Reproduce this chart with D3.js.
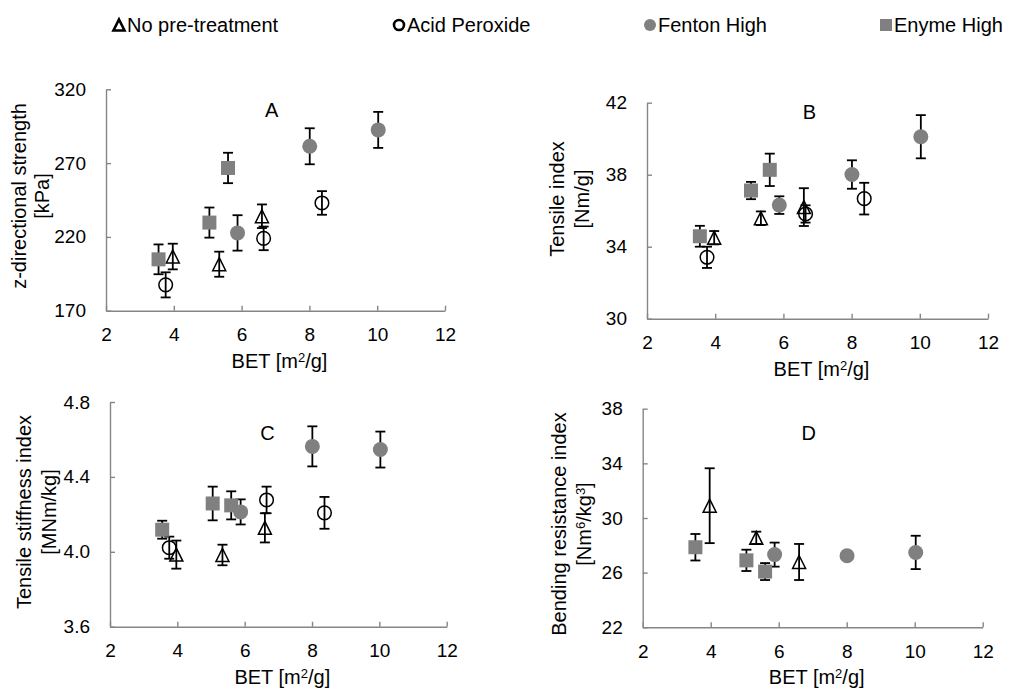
<!DOCTYPE html>
<html>
<head>
<meta charset="utf-8">
<script src="https://cdn.jsdelivr.net/npm/d3@7"></script>
<style>
  body { margin: 0; background: #fff; }
  svg text { font-family: "Liberation Sans", Arial, sans-serif; fill: #000; }
</style>
</head>
<body>
<script>
// series order: no pre-treatment, acid peroxide, fenton high, enzyme high
let seriesNames = ['No pre-treatment', 'Acid Peroxide', 'Fenton High', 'Enyme High'];
let bet = [[3.97, 5.34, 6.60], [3.76, 6.65, 8.37], [5.88, 8.01, 10.03], [3.55, 5.05, 5.60]];
let xTicks = [2, 4, 6, 8, 10, 12];

let zStrength = [[206.7, 201.5, 234], [187.5, 219, 243], [222.7, 281.4, 292.5], [204.8, 229.7, 266.7]];
let zStrengthErr = [[8.7, 8.5, 8], [8.5, 8, 8], [12, 12.2, 12.2], [10.1, 10.2, 10.3]];
let zTicks = [170, 220, 270, 320];

let tensile = [[34.5, 35.58, 36.2], [33.41, 35.82, 36.67], [36.31, 38.01, 40.11], [34.58, 37.12, 38.27]];
let tensileErr = [[0.37, 0.38, 1.05], [0.59, 0.48, 0.88], [0.49, 0.79, 1.2], [0.58, 0.48, 0.9]];
let tensileTicks = [30, 34, 38, 42];

let stiffness = [[3.985, 3.983, 4.128], [4.022, 4.277, 4.208], [4.213, 4.563, 4.546], [4.118, 4.258, 4.248]];
let stiffnessErr = [[0.075, 0.055, 0.078], [0.059, 0.071, 0.085], [0.067, 0.107, 0.096], [0.048, 0.09, 0.075]];
let stiffnessTicks = [3.6, 4.0, 4.4, 4.8];

// no acid peroxide points in the bending panel
let bending = [[30.9, 28.55, 26.78], [], [27.32, 27.24, 27.48], [27.86, 26.9, 26.08]];
let bendingErr = [[2.74, 0.45, 1.32], [], [0.88, 0.3, 1.22], [0.97, 0.78, 0.62]];
let bendingTicks = [22, 26, 30, 34, 38];

let w = 1009, h = 688;
let gray = '#808080', axisColor = '#868686';

let svg = d3.select('body')
  .append('svg')
  .attr('width', w)
  .attr('height', h);

let betTitle = [['BET [m', 0], ['2', 1], ['/g]', 0]];

let panels = [
  { letter: 'A', vals: zStrength, errs: zStrengthErr, yDomain: [170, 320], yTicks: zTicks, fmt: d3.format('d'),
    box: [106, 445, 89.3, 310.7], title: [[['z-directional strength', 0]], [['[kPa]', 0]]],
    titleX: [19, 42], titleY: 196, letterAt: [6.89, 306] },
  { letter: 'B', vals: tensile, errs: tensileErr, yDomain: [30, 42], yTicks: tensileTicks, fmt: d3.format('d'),
    box: [647, 988, 102.7, 318.7], title: [[['Tensile index', 0]], [['[Nm/g]', 0]]],
    titleX: [557, 582], titleY: 199, letterAt: [6.76, 41.5] },
  { letter: 'C', vals: stiffness, errs: stiffnessErr, yDomain: [3.6, 4.8], yTicks: stiffnessTicks, fmt: d3.format('.1f'),
    box: [110, 446.7, 402, 626.7], title: [[['Tensile stiffness index', 0]], [['[MNm/kg]', 0]]],
    titleX: [24, 49], titleY: 512, letterAt: [6.68, 4.633] },
  { letter: 'D', vals: bending, errs: bendingErr, yDomain: [22, 38], yTicks: bendingTicks, fmt: d3.format('d'),
    box: [642.7, 982.7, 408.7, 627.3], title: [[['Bending resistance index', 0]], [['[Nm', 0], ['6', 1], ['/kg', 0], ['3', 1], [']', 0]]],
    titleX: [559, 584], titleY: 524, letterAt: [6.88, 36.2] }
];

// writes text segments, superscript ones smaller and raised
let addSegments = (textSel, segs) => {
  segs.forEach(s => {
    textSel.append('tspan')
      .text(s[0])
      .style('font-size', s[1] ? '13px' : null)
      .attr('dy', null)
      .attr('baseline-shift', s[1] ? '45%' : null);
  });
};

let triPath = 'M0,-6.5L6.5,6.5L-6.5,6.5Z';

let drawMarker = (g, type, x, y, legend) => {
  let sw = legend ? 2.6 : 1.5;
  if (type === 0) {
    let s = legend ? 0.85 : 1;
    g.append('path').attr('d', triPath)
      .attr('transform', `translate(${x},${y}) scale(${s})`)
      .attr('fill', 'none').attr('stroke', '#000').attr('stroke-width', sw / s);
  } else if (type === 1) {
    g.append('circle').attr('cx', x).attr('cy', y).attr('r', legend ? 5 : 6.8)
      .attr('fill', 'none').attr('stroke', '#000').attr('stroke-width', sw);
  } else if (type === 2) {
    g.append('circle').attr('cx', x).attr('cy', y).attr('r', legend ? 6 : 7.5)
      .attr('fill', gray);
  } else {
    let s = legend ? 12 : 14;
    g.append('rect').attr('x', x - s / 2).attr('y', y - s / 2)
      .attr('width', s).attr('height', s).attr('fill', gray);
  }
};

panels.forEach(p => {
  let [x0, x1, yTop, yBot] = p.box;

  let xScale = d3.scaleLinear().domain([2, 12]).range([x0, x1]);
  let yScale = d3.scaleLinear().domain(p.yDomain).range([yBot, yTop]);

  let g = svg.append('g').attr('class', 'panel-' + p.letter);

  let xAxis = g.append('g')
    .attr('transform', `translate(0,${yBot})`)
    .call(d3.axisBottom(xScale).tickValues(xTicks).tickSizeInner(-5).tickSizeOuter(0).tickPadding(17));

  let yAxis = g.append('g')
    .attr('transform', `translate(${x0},0)`)
    .call(d3.axisLeft(yScale).tickValues(p.yTicks).tickFormat(p.fmt).tickSizeInner(-5).tickSizeOuter(0).tickPadding(20));

  [xAxis, yAxis].forEach(a => {
    a.select('.domain').attr('stroke', axisColor).attr('stroke-width', 1.4);
    a.selectAll('.tick line').attr('stroke', axisColor).attr('stroke-width', 1.4);
    a.selectAll('.tick text').style('font-size', '19px').attr('fill', '#000');
  });

  // x title
  let xt = g.append('text')
    .attr('x', (x0 + x1) / 2 + 4)
    .attr('y', yBot + 57)
    .attr('text-anchor', 'middle')
    .style('font-size', '20px');
  addSegments(xt, betTitle);

  // y title, two lines
  p.title.forEach((line, i) => {
    let t = g.append('text')
      .attr('transform', `translate(${p.titleX[i]},${p.titleY}) rotate(-90)`)
      .attr('text-anchor', 'middle')
      .attr('dy', '0.35em')
      .style('font-size', '20px');
    addSegments(t, line);
  });

  g.append('text')
    .text(p.letter)
    .attr('x', xScale(p.letterAt[0]))
    .attr('y', yScale(p.letterAt[1]))
    .attr('dy', '0.35em')
    .attr('text-anchor', 'middle')
    .style('font-size', '20px');

  // error bars first, markers on top
  p.vals.forEach((vals, si) => {
    vals.forEach((v, j) => {
      let x = xScale(bet[si][j]);
      let e = p.errs[si][j];
      let yHi = yScale(v + e), yLo = yScale(v - e);
      g.append('line').attr('x1', x).attr('x2', x).attr('y1', yHi).attr('y2', yLo)
        .attr('stroke', '#000').attr('stroke-width', 1.8);
      [yHi, yLo].forEach(yy => {
        g.append('line').attr('x1', x - 5).attr('x2', x + 5).attr('y1', yy).attr('y2', yy)
          .attr('stroke', '#000').attr('stroke-width', 1.8);
      });
    });
  });

  p.vals.forEach((vals, si) => {
    vals.forEach((v, j) => {
      drawMarker(g, si, xScale(bet[si][j]), yScale(v), false);
    });
  });
});

// legend across the top
let legendSymX = [119, 399, 650, 886];
let legend = svg.append('g').attr('class', 'legend');
seriesNames.forEach((name, i) => {
  drawMarker(legend, i, legendSymX[i], 25, true);
  legend.append('text')
    .text(name)
    .attr('x', legendSymX[i] + 8)
    .attr('y', 32)
    .style('font-size', '20px');
});
</script>
</body>
</html>
